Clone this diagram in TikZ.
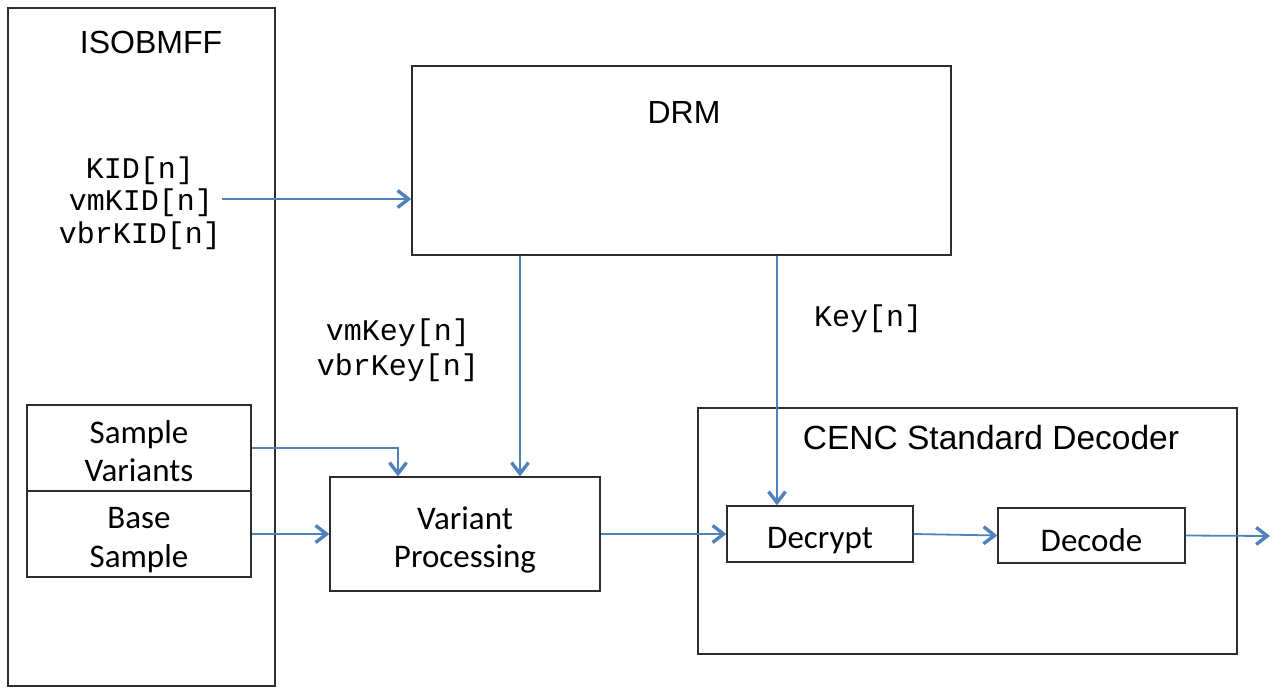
\documentclass[tikz,border=0pt]{standalone}
\usepackage{fontspec}
\newfontfamily\arialf{Liberation Sans}
\newfontfamily\calibf{Carlito}
\newfontfamily\courf{Liberation Mono}
\usetikzlibrary{arrows.meta}
\definecolor{arrblue}{RGB}{79,129,189}
\definecolor{boxgray}{RGB}{45,45,45}
\tikzset{
  box/.style={draw=boxgray, line width=1.3pt, rectangle, inner sep=0pt},
  flow/.style={draw=arrblue, line width=1.8pt, -{Straight Barb[length=11pt,width=17pt,line width=3.4pt]}},
  titletxt/.style={font=\arialf\fontsize{32}{38}\selectfont, inner sep=0pt},
  bodytxt/.style={font=\calibf\fontsize{33}{38.5}\selectfont, align=center, inner sep=0pt},
  codetxt/.style={font=\courf\fontsize{30}{34}\selectfont, inner sep=0pt},
}
\begin{document}
\begin{tikzpicture}[x=1pt,y=-1pt]
\useasboundingbox (0,0) rectangle (1272,688);
% boxes
\node[box, minimum width=267pt, minimum height=678pt] (iso) at (141.5,347) {};
\node[box, minimum width=539pt, minimum height=189pt] (drm) at (681.5,160.5) {};
\node[box, minimum width=224pt, minimum height=86pt] (sv) at (139,448) {};
\node[box, minimum width=224pt, minimum height=86pt] (bs) at (139,534) {};
\node[box, minimum width=270pt, minimum height=114pt] (vp) at (465,534) {};
\node[box, minimum width=539pt, minimum height=246pt] (cenc) at (967.5,531) {};
\node[box, minimum width=186pt, minimum height=56pt] (dec) at (820,534) {};
\node[box, minimum width=187pt, minimum height=55pt] (dcd) at (1091.5,535.5) {};
% texts
\node[titletxt] (isot) at (151,42) {ISOBMFF};
\node[titletxt] (drmt) at (684,112) {DRM};
\node[titletxt, font=\arialf\fontsize{33.5}{38}\selectfont] (cenct) at (991,438) {CENC Standard Decoder};
\node[bodytxt] (svt) at (139,451) {Sample\\Variants};
\node[bodytxt] (bst) at (139,540) {Base\\Sample};
\node[bodytxt] (vpt) at (465,540) {Variant\\Processing};
\node[bodytxt] (dect) at (820,541) {Decrypt};
\node[bodytxt] (dcdt) at (1091.5,540) {Decode};
\node[codetxt] (kid) at (140,171) {KID[n]};
\node[codetxt] (vmkid) at (141,203) {vmKID[n]};
\node[codetxt] (vbrkid) at (140,236) {vbrKID[n]};
\node[codetxt] (vmkey) at (398,333) {vmKey[n]};
\node[codetxt] (vbrkey) at (398,368) {vbrKey[n]};
\node[codetxt] (keyn) at (868,319) {Key[n]};
% connectors
\coordinate (vmstart) at (222,199);
\draw[flow] (vmstart) -- (vmstart -| drm.west);
\coordinate (kx1) at (520,0);
\draw[flow] (kx1 |- drm.south) -- (kx1 |- vp.north);
\coordinate (kx2) at (777,0);
\draw[flow] (kx2 |- drm.south) -- (kx2 |- dec.north);
\coordinate (svx) at (398,0);
\draw[flow] (sv.east) -- (sv.east -| svx) -- (svx |- vp.north);
\draw[flow] (bs.east) -- (vp.west);
\draw[flow] (vp.east) -- (dec.west);
\draw[flow] (dec.east) -- (dcd.west);
\coordinate (outp) at (1270,536);
\draw[flow] (dcd.east) -- (outp);
\end{tikzpicture}
\end{document}
